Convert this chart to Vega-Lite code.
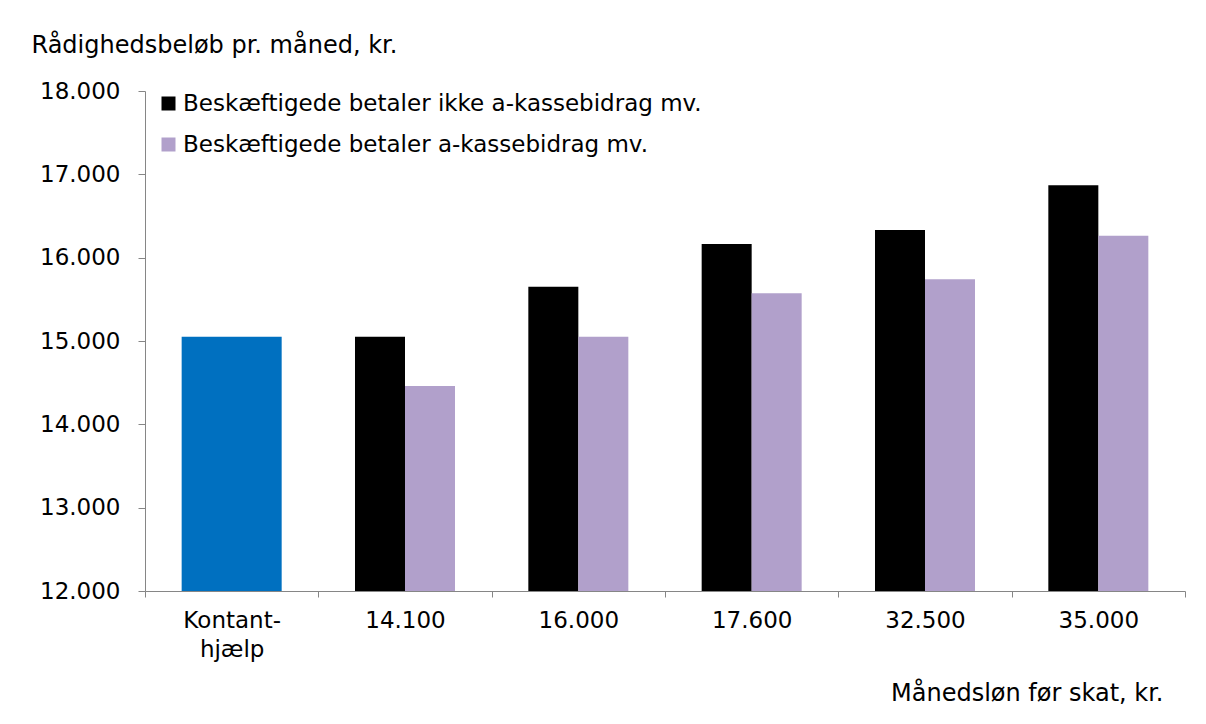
{
  "$schema": "https://vega.github.io/schema/vega-lite/v6.json",
  "width": 1040,
  "height": 500,
  "autosize": {"type": "none"},
  "padding": {"left": 145, "top": 91, "right": 21, "bottom": 133},
  "background": "white",
  "config": {
    "font": "DejaVu Sans",
    "view": {"stroke": null},
    "axis": {"grid": false, "domainColor": "#868686", "tickColor": "#868686", "labelColor": "#000000", "titleColor": "#000000", "labelFont": "DejaVu Sans", "titleFont": "DejaVu Sans", "labelFontSize": 23, "titleFontSize": 24, "titleFontWeight": "normal"},
    "legend": {"labelFont": "DejaVu Sans", "labelFontSize": 23, "labelColor": "#000000", "labelLimit": 900}
  },
  "data": {
    "values": [
      {"kategori": "Kontant-hjælp", "serie": "Kontanthjælp", "value": 15050},
      {"kategori": "14.100", "serie": "Beskæftigede betaler ikke a-kassebidrag mv.", "value": 15050},
      {"kategori": "14.100", "serie": "Beskæftigede betaler a-kassebidrag mv.", "value": 14460},
      {"kategori": "16.000", "serie": "Beskæftigede betaler ikke a-kassebidrag mv.", "value": 15652},
      {"kategori": "16.000", "serie": "Beskæftigede betaler a-kassebidrag mv.", "value": 15052},
      {"kategori": "17.600", "serie": "Beskæftigede betaler ikke a-kassebidrag mv.", "value": 16164},
      {"kategori": "17.600", "serie": "Beskæftigede betaler a-kassebidrag mv.", "value": 15572},
      {"kategori": "32.500", "serie": "Beskæftigede betaler ikke a-kassebidrag mv.", "value": 16332},
      {"kategori": "32.500", "serie": "Beskæftigede betaler a-kassebidrag mv.", "value": 15740},
      {"kategori": "35.000", "serie": "Beskæftigede betaler ikke a-kassebidrag mv.", "value": 16868},
      {"kategori": "35.000", "serie": "Beskæftigede betaler a-kassebidrag mv.", "value": 16264}
    ]
  },
  "encoding": {
    "x": {
      "field": "kategori",
      "type": "nominal",
      "sort": null,
      "scale": {"domain": ["Kontant-hjælp", "14.100", "16.000", "17.600", "32.500", "35.000"], "paddingInner": 0, "paddingOuter": 0},
      "axis": {
        "title": "Månedsløn før skat, kr.",
        "titleX": 1018,
        "titleY": 102,
        "titleAlign": "right",
        "titleBaseline": "middle",
        "labelAngle": 0,
        "tickBand": "extent",
        "tickSize": 6,
        "labelPadding": 12,
        "labelLineHeight": 29,
        "labelExpr": "datum.value == 'Kontant-hjælp' ? ['Kontant-', 'hjælp'] : datum.value"
      }
    },
    "y": {
      "field": "value",
      "type": "quantitative",
      "scale": {"domain": [12000, 18000], "nice": false, "zero": false},
      "axis": {
        "values": [12000, 13000, 14000, 15000, 16000, 17000, 18000],
        "labelExpr": "replace(format(datum.value, ',d'), ',', '.')",
        "tickSize": 7,
        "labelPadding": 18,
        "title": "Rådighedsbeløb pr. måned, kr.",
        "titleAngle": 0,
        "titleAlign": "left",
        "titleBaseline": "middle",
        "titleX": -114,
        "titleY": -46
      }
    }
  },
  "layer": [
    {
      "transform": [{"filter": "datum.serie == 'Kontanthjælp'"}],
      "mark": {"type": "bar", "color": "#0070C0", "width": {"band": 0.577}, "clip": true}
    },
    {
      "transform": [{"filter": "datum.serie != 'Kontanthjælp'"}],
      "mark": {"type": "bar", "clip": true},
      "encoding": {
        "xOffset": {
          "field": "serie",
          "type": "nominal",
          "scale": {"domain": ["Beskæftigede betaler ikke a-kassebidrag mv.", "Beskæftigede betaler a-kassebidrag mv."], "paddingInner": 0, "paddingOuter": 0.7333}
        },
        "color": {
          "field": "serie",
          "type": "nominal",
          "scale": {"domain": ["Beskæftigede betaler ikke a-kassebidrag mv.", "Beskæftigede betaler a-kassebidrag mv."], "range": ["#000000", "#B1A0CB"]},
          "legend": {
            "title": null,
            "orient": "none",
            "legendX": 12,
            "legendY": 1,
            "symbolType": "square",
            "symbolSize": 196,
            "symbolStrokeWidth": 0,
            "labelOffset": 3,
            "rowPadding": 17,
            "padding": 0
          }
        }
      }
    }
  ]
}
